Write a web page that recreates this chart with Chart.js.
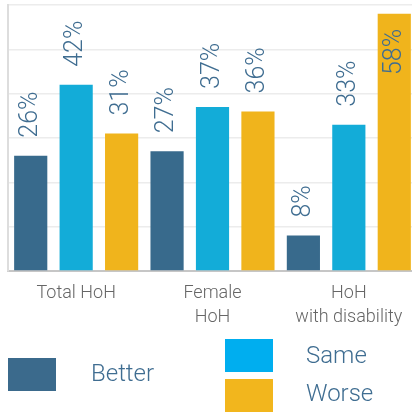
<!DOCTYPE html>
<html>
<head>
<meta charset="utf-8">
<script src="https://cdn.jsdelivr.net/npm/chart.js@4/dist/chart.umd.min.js"></script>
<style>
  html, body { margin: 0; padding: 0; background: #fff; overflow: hidden; }
  #frame { width: 412px; height: 413px; overflow: hidden; }
  #wrap { width: 417px; height: 413px; position: relative; }
</style>
</head>
<body>
<div id="frame"><div id="wrap"><canvas id="hohChart"></canvas></div></div>
<script>
const categories = [['Total HoH'], ['Female', 'HoH'], ['HoH', 'with disability']];
const seriesNames = ['Better', 'Same', 'Worse'];
const better = [26, 27, 8];
const same = [42, 37, 33];
const worse = [31, 36, 58];
const yTicks = [0, 10, 20, 30, 40, 50, 60];

const barColors = ['#386a8c', '#13acd8', '#f0b41c'];
const keyColors = ['#3b6a8c', '#00aeef', '#f2b61d'];
const labelBlue = '#3f6d91';
const fontFamily = 'Roboto, "Liberation Sans", sans-serif';

// rotated percentage labels above each bar (inside the bar when it reaches the top)
const valueLabels = {
    id: 'valueLabels',
    afterDatasetsDraw(chart) {
        const ctx = chart.ctx;
        const top = chart.chartArea.top;
        ctx.save();
        ctx.font = '300 25px ' + fontFamily;
        ctx.fillStyle = labelBlue;
        ctx.textBaseline = 'middle';
        chart.data.datasets.forEach((ds, i) => {
            chart.getDatasetMeta(i).data.forEach((bar, j) => {
                const txt = ds.data[j] + '%';
                const w = ctx.measureText(txt).width;
                ctx.save();
                if (bar.y - 18 - w < top) {
                    ctx.translate(bar.x, bar.y + 15);
                    ctx.rotate(-Math.PI / 2);
                    ctx.textAlign = 'right';
                } else {
                    ctx.translate(bar.x, bar.y - 18);
                    ctx.rotate(-Math.PI / 2);
                    ctx.textAlign = 'left';
                }
                ctx.fillText(txt, 0, 0);
                ctx.restore();
            });
        });
        ctx.restore();
    }
};

// legend laid out as one box on the left and two stacked on the right
const blockLegend = {
    id: 'blockLegend',
    afterDraw(chart) {
        const ctx = chart.ctx;
        const spots = [
            { bx: 8, by: 358, tx: 91, ty: 375 },
            { bx: 225, by: 339, tx: 306, ty: 357 },
            { bx: 225, by: 379, tx: 306, ty: 395 }
        ];
        ctx.save();
        ctx.font = '300 24px ' + fontFamily;
        ctx.textBaseline = 'middle';
        ctx.textAlign = 'left';
        seriesNames.forEach((name, i) => {
            const s = spots[i];
            ctx.fillStyle = keyColors[i];
            ctx.fillRect(s.bx, s.by, 48, 33);
            ctx.fillStyle = labelBlue;
            ctx.fillText(name, s.tx, s.ty);
        });
        ctx.restore();
    }
};

const ctx = document.getElementById('hohChart').getContext('2d');

new Chart(ctx, {
    type: 'bar',
    data: {
        labels: categories,
        datasets: [better, same, worse].map((vals, i) => ({
            label: seriesNames[i],
            data: vals,
            backgroundColor: barColors[i],
            barPercentage: 0.73,
            categoryPercentage: 1.0
        }))
    },
    options: {
        responsive: true,
        maintainAspectRatio: false,
        animation: false,
        layout: { padding: { top: 5, left: 7, right: 0, bottom: 0 } },
        plugins: {
            legend: { display: false },
            tooltip: { enabled: false }
        },
        scales: {
            x: {
                grid: { display: false, drawTicks: false },
                border: { color: '#c6c6c6', width: 2 },
                ticks: {
                    padding: 10,
                    color: '#666666',
                    font: { family: fontFamily, size: 18, weight: '300', lineHeight: 1.35 }
                },
                afterFit(scale) { scale.height = 142; }
            },
            y: {
                min: yTicks[0],
                max: yTicks[yTicks.length - 1],
                afterBuildTicks(scale) { scale.ticks = yTicks.map(v => ({ value: v })); },
                grid: { color: '#ececec', lineWidth: 1.5, drawTicks: false },
                border: { color: '#dddddd', width: 2 },
                ticks: { display: false },
                afterFit(scale) { scale.width = 1; }
            }
        }
    },
    plugins: [valueLabels, blockLegend]
});
</script>
</body>
</html>
